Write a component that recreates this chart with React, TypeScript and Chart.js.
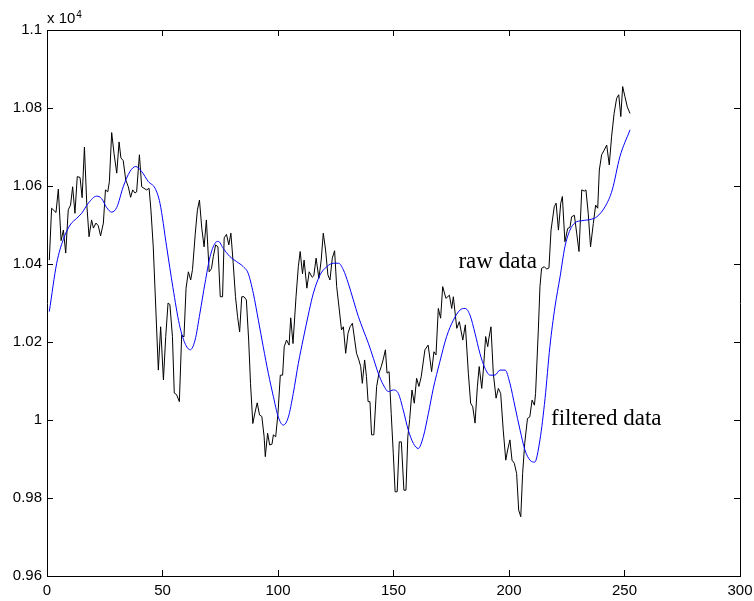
import React, { useEffect, useRef } from "react";
import { Chart, registerables } from "chart.js";

Chart.register(...registerables);

// ---- axis ticks ----
const xTicks = [0, 50, 100, 150, 200, 250, 300];
const yTicks = [0.96, 0.98, 1, 1.02, 1.04, 1.06, 1.08, 1.1];

// ---- raw data (values are in units of 10^4) ----
const rawX = [
  1.0, 2.0, 3.9, 4.9, 6.1, 7.1, 8.1, 9.2, 10.2, 11.1, 12.1, 13.1, 14.3, 15.2, 16.2, 17.2, 18.2, 19.3, 20.1, 21.2,
  22.2, 23.2, 24.4, 25.3, 26.3, 27.0, 28.0, 29.0, 30.2, 31.2, 32.0, 33.0, 34.1, 35.2, 36.2, 37.1, 38.1, 38.8, 40.0, 41.0,
  42.0, 43.1, 44.2, 45.0, 46.0, 47.0, 48.2, 49.2, 50.4, 51.4, 52.4, 53.2, 54.3, 55.1, 56.1, 57.3,
  58.3, 59.3, 60.2, 61.2, 62.2, 63.0, 64.2, 65.1, 66.0, 67.0, 68.0, 69.0, 70.2, 71.2, 72.0, 73.0, 74.0, 75.0, 76.0, 76.7,
  77.7, 78.7, 79.6, 80.6, 81.6, 82.5, 83.4, 84.3, 85.3, 86.3, 87.3, 88.1, 89.1, 90.0, 91.0, 92.0, 93.0, 94.0, 94.5, 95.5,
  96.4, 97.4, 98.0, 99.0, 100.0, 101.0, 102.0, 102.7, 103.7, 104.8, 105.5, 106.5, 107.8, 108.8, 109.6, 110.6, 111.3, 112.5, 113.5,
  114.8, 115.5, 116.5, 117.7, 118.7, 119.6, 120.6, 121.6, 122.5, 123.5, 124.5, 125.4, 126.4, 127.5, 128.3, 129.3, 130.3, 131.2,
  132.2, 133.2, 134.0, 135.0, 135.8, 136.5, 137.5, 138.3, 139.0, 139.8, 140.5, 141.5, 142.7, 143.7, 144.7, 145.5, 146.5, 147.2,
  148.1, 149.0, 149.9, 150.7, 151.6, 152.5, 153.4, 154.5, 155.4, 156.2, 157.0, 158.0, 159.0, 160.0, 161.0, 162.0,
  163.6, 165.0, 166.5, 167.5, 168.4, 169.4, 170.4, 171.3, 172.7, 174.2, 175.2, 175.9, 177.4, 178.5, 180.0, 181.1, 182.4, 183.4,
  184.3, 185.3, 186.3, 187.1, 188.2, 188.9, 189.9, 190.8, 191.3, 192.2, 193.2, 194.4, 195.4, 196.4, 197.5, 198.6, 199.4, 200.4,
  201.3, 202.3, 203.3, 204.2, 205.1, 205.9, 206.8,
  208.0, 209.0, 210.0, 211.0, 211.5, 212.7, 213.4, 214.1, 215.3, 216.3, 217.3, 218.2, 219.6, 220.4, 221.4, 222.4, 223.1, 224.2,
  225.4, 226.4, 227.1, 228.3, 229.3, 230.3, 231.5, 232.6, 233.3, 234.3, 235.3, 236.5, 237.5, 238.4, 239.1, 240.1, 241.2, 242.3,
  243.4, 244.4, 245.5, 246.6, 247.5, 248.4, 249.2, 250.2, 251.2, 252.4,
];
const rawY = [
  1.041, 1.0543, 1.0532, 1.0592, 1.046, 1.0487, 1.0428, 1.0539, 1.0551, 1.0598, 1.053, 1.0624, 1.0622, 1.057, 1.07, 1.0556, 1.047, 1.0513, 1.0492, 1.0505,
  1.0498, 1.0472, 1.0505, 1.059, 1.0585, 1.0611, 1.0737, 1.0684, 1.0633, 1.0713, 1.0672, 1.0665, 1.0615, 1.0598, 1.0571, 1.059, 1.0582, 1.0585, 1.068, 1.0598,
  1.0594, 1.059, 1.0594, 1.0538, 1.0444, 1.03, 1.0128, 1.0239, 1.0103, 1.0214, 1.03, 1.0296, 1.0214, 1.0069, 1.0065, 1.0047,
  1.0218, 1.0213, 1.0338, 1.038, 1.0359, 1.0386, 1.0479, 1.0538, 1.0564, 1.0492, 1.0444, 1.0513, 1.038, 1.0388, 1.0419, 1.0449, 1.0444, 1.0316, 1.0316, 1.0467,
  1.0476, 1.0449, 1.0479, 1.0403, 1.0316, 1.0265, 1.0226, 1.0316, 1.0316, 1.0308, 1.0205, 1.0094, 0.9991, 1.0018, 1.0044, 1.0013, 1.0009, 0.9957, 0.9906, 0.9966,
  0.9936, 0.9938, 0.9962, 0.9957, 1.0018, 1.0115, 1.0115, 1.0188, 1.0205, 1.0192, 1.0262, 1.0196, 1.0316, 1.0393, 1.0432, 1.0375, 1.041, 1.0338, 1.038,
  1.0366, 1.037, 1.0415, 1.0363, 1.041, 1.0479, 1.0436, 1.0372, 1.0359, 1.0415, 1.0434, 1.0342, 1.029, 1.0231, 1.0239, 1.0171, 1.0222, 1.0239,
  1.0248, 1.0205, 1.0171, 1.0154, 1.0137, 1.0094, 1.0154, 1.0111, 1.0047, 1.0047, 0.9962, 0.9962, 1.0086, 1.012, 1.0137, 1.0154, 1.018, 1.012,
  1.0124, 1.0017, 0.9915, 0.9816, 0.9816, 0.9944, 0.9944, 0.982, 0.982, 0.9957, 1.0001, 1.0077, 1.0043, 1.0107, 1.0086, 1.0111,
  1.018, 1.0192, 1.0124, 1.0175, 1.0167, 1.0286, 1.0261, 1.0342, 1.0312, 1.032, 1.0286, 1.0316, 1.0235, 1.0252, 1.0205, 1.0244, 1.012, 1.0043,
  1.0034, 0.9992, 1.0085, 1.0137, 1.0081, 1.0128, 1.0214, 1.0188, 1.021, 1.0239, 1.012, 1.0056, 1.0081, 1.0068, 0.9974, 0.9897, 0.9923, 0.9949,
  0.9897, 0.9889, 0.9863, 0.9769, 0.9752, 0.9863, 0.994,
  1.0004, 1.0008, 1.0051, 1.0038, 1.0068, 1.0231, 1.0342, 1.0389, 1.0393, 1.0387, 1.039, 1.0487, 1.0547, 1.0556, 1.0487, 1.0556, 1.0573, 1.0457,
  1.0491, 1.0494, 1.0521, 1.0525, 1.0479, 1.0432, 1.059, 1.0587, 1.059, 1.053, 1.0444, 1.0504, 1.0551, 1.0543, 1.0641, 1.068, 1.0692, 1.0705,
  1.0654, 1.0726, 1.0786, 1.0825, 1.0834, 1.0778, 1.0855, 1.0829, 1.0803, 1.0786,
];

// ---- filtered data ----
const filtX = [
  1.0, 4.2, 7.0, 10.0, 12.8, 15.0, 17.9, 21.5, 23.6, 25.8, 28.0, 30.2, 33.0, 35.9, 38.4, 41.0, 43.9, 46.8, 48.9, 51.8,
  54.5, 57.3, 59.7, 62.0, 64.1, 66.2, 68.4, 70.6, 72.7, 74.2, 76.3, 79.2, 82.1, 85.0, 87.1, 89.3, 91.5, 93.6, 95.8, 98.0,
  100.1, 102.3, 104.5, 106.6, 108.8, 111.0, 113.5, 115.3, 118.2, 121.1, 124.0, 126.2, 128.3, 130.4, 132.6, 134.8, 136.9, 139.1, 141.3, 143.4,
  145.6, 147.8, 149.9, 152.1, 154.2, 156.4, 158.6, 160.7, 162.9, 165.1, 167.2, 170.1, 173.0, 175.9, 178.8, 181.0, 183.1, 185.3, 187.4, 189.6,
  191.8, 193.9, 196.1, 198.3, 200.4, 202.6, 204.8, 206.9, 209.1, 211.1, 213.4, 215.6, 217.7, 219.9, 222.1, 224.2, 226.4, 228.6, 231.5, 235.8,
  238.0, 241.6, 244.7, 248.0, 252.4,
];
const filtY = [
  1.0278, 1.0402, 1.0462, 1.05, 1.0517, 1.053, 1.0556, 1.0574, 1.0568, 1.0545, 1.0533, 1.0545, 1.0598, 1.0637, 1.065, 1.0637, 1.0611, 1.0594, 1.0556, 1.0444,
  1.034, 1.0245, 1.0197, 1.018, 1.0205, 1.0274, 1.0351, 1.0419, 1.0453, 1.0458, 1.044, 1.0419, 1.0406, 1.0393, 1.0376, 1.0325, 1.0256, 1.0188, 1.012, 1.006,
  1.0008, 0.9987, 1.0008, 1.0068, 1.0145, 1.021, 1.028, 1.0325, 1.0372, 1.0393, 1.0402, 1.0402, 1.0385, 1.0351, 1.0308, 1.0265, 1.0231, 1.0197, 1.0158, 1.012,
  1.009, 1.0073, 1.0077, 1.0068, 1.0026, 0.9974, 0.994, 0.9927, 0.9957, 1.0017, 1.008, 1.015, 1.0214, 1.0256, 1.0282, 1.0286, 1.0269, 1.0222, 1.0171, 1.0133,
  1.0115, 1.0115, 1.0128, 1.0128, 1.0094, 1.0034, 0.9974, 0.9923, 0.9897, 0.9892, 0.9949, 1.0055, 1.0188, 1.029, 1.0367, 1.0444, 1.0487, 1.0506, 1.0511, 1.0515,
  1.0521, 1.0547, 1.059, 1.0675, 1.0744,
];

// ---- text annotations (data coordinates) ----
const labelTexts = ["raw data", "filtered data"];
const labelX = [178.1, 218.2];
const labelY = [1.039, 0.9987];
const exponentBase = "x 10";
const exponentPower = "4";

const W = 754;
const H = 601;
const PLOT = { left: 47, top: 30, right: 740, bottom: 576 };
const TICK_IN = 6;

const toPoints = (xs: number[], ys: number[]) =>
  xs.slice(0, Math.min(xs.length, ys.length)).map((x, i) => ({ x, y: ys[i] }));

const annotations = {
  id: "annotations",
  afterDraw(chart: any) {
    const { ctx, chartArea: a, scales } = chart;
    ctx.save();
    ctx.fillStyle = "#000000";
    ctx.textAlign = "left";
    ctx.textBaseline = "alphabetic";
    ctx.font = "23px 'Liberation Serif'";
    labelTexts.forEach((t, i) => {
      ctx.fillText(t, scales.x.getPixelForValue(labelX[i]), scales.y.getPixelForValue(labelY[i]));
    });
    ctx.font = "15px 'Liberation Sans'";
    ctx.fillText(exponentBase, a.left, a.top - 7);
    const w = ctx.measureText(exponentBase).width;
    ctx.font = "10px 'Liberation Sans'";
    ctx.fillText(exponentPower, a.left + w + 1, a.top - 12);
    ctx.restore();
  },
};

const tickFont = { family: "'Liberation Sans', Arial, sans-serif", size: 15 };
const frameGrid = {
  display: true,
  drawOnChartArea: false,
  drawTicks: true,
  tickLength: -TICK_IN,
  color: "#000000",
  lineWidth: 1,
};
const frameBorder = { display: true, color: "#000000", width: 1 };
const noSidePadding = (s: any) => {
  s.paddingLeft = 0;
  s.paddingRight = 0;
};
const noEndPadding = (s: any) => {
  s.paddingTop = 0;
  s.paddingBottom = 0;
};

export default function App() {
  const ref = useRef<HTMLCanvasElement | null>(null);

  useEffect(() => {
    if (!ref.current) return;
    const chart = new Chart(ref.current, {
      type: "line",
      data: {
        datasets: [
          {
            label: "raw data",
            data: toPoints(rawX, rawY),
            borderColor: "#000000",
            borderWidth: 1,
            pointRadius: 0,
            fill: false,
            tension: 0,
            order: 2,
          },
          {
            label: "filtered data",
            data: toPoints(filtX, filtY),
            borderColor: "#0000ff",
            borderWidth: 1,
            pointRadius: 0,
            fill: false,
            cubicInterpolationMode: "monotone",
            order: 1,
          },
        ],
      },
      options: {
        animation: false,
        responsive: false,
        maintainAspectRatio: false,
        devicePixelRatio: 1,
        parsing: false,
        layout: { padding: { left: 0, top: PLOT.top, right: W - PLOT.right, bottom: 0 } },
        plugins: { legend: { display: false }, tooltip: { enabled: false } },
        scales: {
          x: {
            type: "linear",
            position: "bottom",
            min: 0,
            max: 300,
            grid: frameGrid,
            border: frameBorder,
            afterBuildTicks: (s: any) => {
              s.ticks = xTicks.map((v) => ({ value: v }));
            },
            afterFit: (s: any) => {
              s.height = H - PLOT.bottom;
              noSidePadding(s);
            },
            ticks: {
              color: "#000",
              font: tickFont,
              padding: 12,
              maxRotation: 0,
              autoSkip: false,
              callback: (v: any) => String(v),
            },
          },
          x2: {
            type: "linear",
            position: "top",
            min: 0,
            max: 300,
            grid: frameGrid,
            border: frameBorder,
            afterBuildTicks: (s: any) => {
              s.ticks = xTicks.map((v) => ({ value: v }));
            },
            afterFit: (s: any) => {
              s.height = 0;
              noSidePadding(s);
            },
            ticks: { display: false },
          },
          y: {
            type: "linear",
            position: "left",
            min: 0.96,
            max: 1.1,
            grid: frameGrid,
            border: frameBorder,
            afterBuildTicks: (s: any) => {
              s.ticks = yTicks.map((v) => ({ value: v }));
            },
            afterFit: (s: any) => {
              s.width = PLOT.left;
              noEndPadding(s);
            },
            ticks: {
              color: "#000",
              font: tickFont,
              padding: 5 + TICK_IN,
              autoSkip: false,
              callback: (v: any) => String(Number(Number(v).toFixed(2))),
            },
          },
          y2: {
            type: "linear",
            position: "right",
            min: 0.96,
            max: 1.1,
            grid: frameGrid,
            border: frameBorder,
            afterBuildTicks: (s: any) => {
              s.ticks = yTicks.map((v) => ({ value: v }));
            },
            afterFit: (s: any) => {
              s.width = 0;
              noEndPadding(s);
            },
            ticks: { display: false },
          },
        },
      },
      plugins: [annotations],
    });
    return () => chart.destroy();
  }, []);

  return (
    <div style={{ position: "absolute", left: 0, top: 0, width: W, height: H, background: "#fff" }}>
      <canvas ref={ref} width={W} height={H} style={{ display: "block", width: W, height: H }} />
    </div>
  );
}
